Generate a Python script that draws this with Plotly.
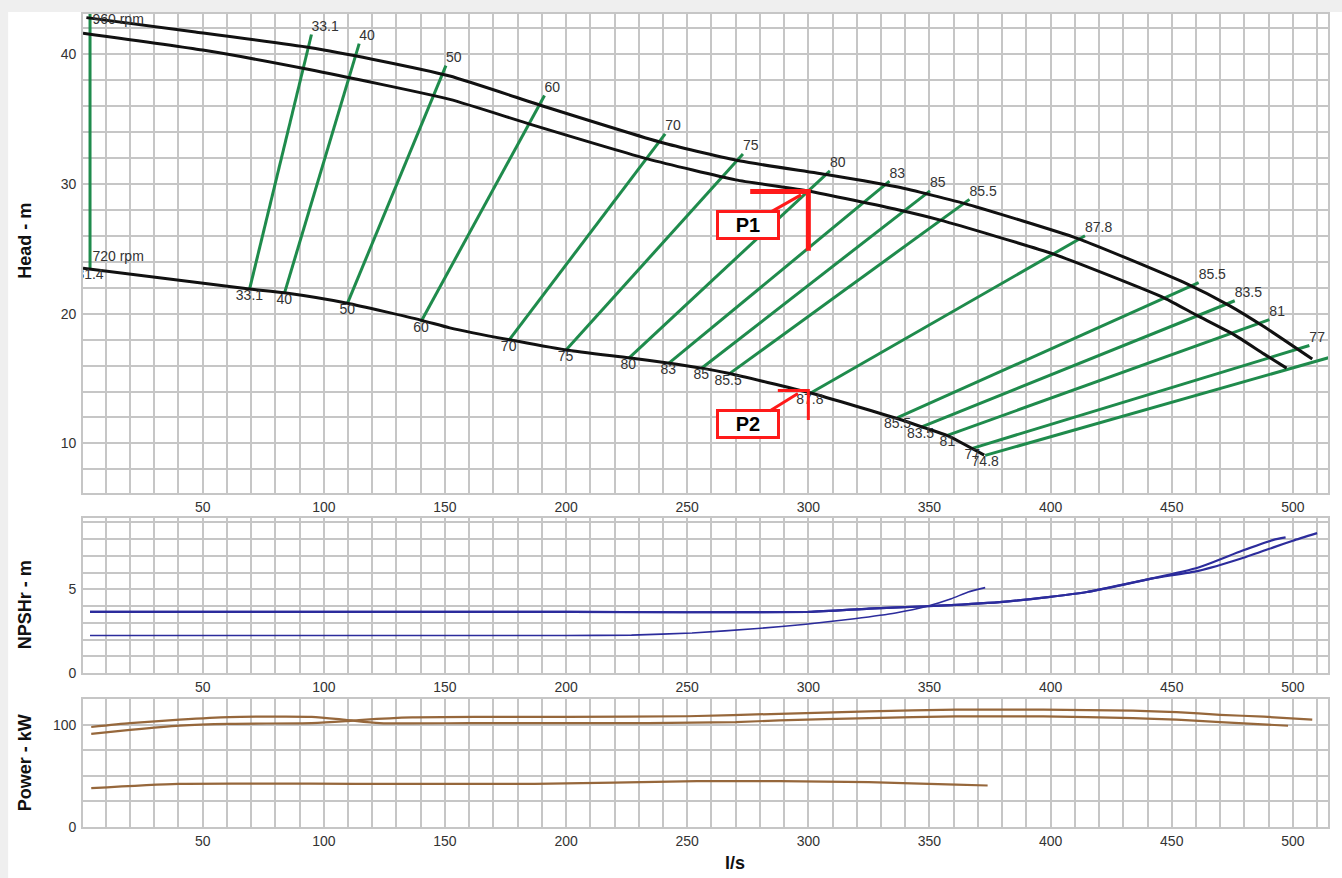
import plotly.graph_objects as go
from plotly.subplots import make_subplots

# ---------------- data ----------------
x_axis_title = "l/s"
x_tickvals = [50, 100, 150, 200, 250, 300, 350, 400, 450, 500]

# Head curves (flow l/s, head m)
head_960a_q = [2, 47, 94, 120, 152, 192, 241, 272, 308, 337, 366, 411, 455, 474, 488, 508]
head_960a_h = [42.8, 41.7, 40.5, 39.6, 38.3, 35.9, 33.1, 31.75, 30.7, 29.75, 28.4, 25.8, 22.4, 20.6, 19.0, 16.5]
head_960b_q = [0.6, 50, 94, 152, 185, 234, 270, 300, 337, 354.5, 401, 447, 460, 475.5, 488, 497.4]
head_960b_h = [41.6, 40.3, 38.8, 36.5, 34.6, 31.9, 30.3, 29.45, 28.0, 27.2, 24.6, 21.2, 19.9, 18.4, 16.9, 15.8]
head_720_q = [0.6, 69.3, 83.7, 109.7, 140, 152, 176, 200, 225.7, 242, 256, 267, 300.6, 337, 348, 357.4, 372.6]
head_720_h = [23.5, 21.9, 21.6, 20.8, 19.5, 18.9, 18.0, 17.2, 16.6, 16.2, 15.8, 15.4, 13.9, 11.9, 11.2, 10.6, 9.1]
speed_labels = ["960 rpm", "720 rpm"]
speed_label_q = [4.5, 4.5]
speed_label_h = [42.6, 24.3]

# Iso-efficiency lines (%)
eff_labels = ["31.4", "33.1", "40", "50", "60", "70", "75", "80", "83", "85", "85.5",
              "87.8", "85.5", "83.5", "81", "77", "74.8"]
eff_q_low = [3.5, 69.3, 83.7, 109.7, 140.1, 176.3, 199.8, 225.7, 242.2, 255.8, 266.9,
             300.6, 336.8, 346.3, 357.4, 367.7, 373.0]
eff_h_low = [23.5, 21.85, 21.54, 20.77, 19.38, 17.92, 17.15, 16.54, 16.15, 15.77, 15.3,
             13.85, 11.99, 11.23, 10.62, 9.62, 9.08]
eff_q_high = [3.5, 94.9, 114.6, 150.4, 191.1, 240.9, 273.0, 308.9, 333.5, 350.2, 366.5,
              414.2, 461.1, 476.0, 490.3, 506.8, 515.0]
eff_h_high = [43.8, 41.5, 40.8, 39.1, 36.8, 33.85, 32.3, 31.0, 30.2, 29.46, 28.8,
              26.0, 22.38, 20.99, 19.54, 17.54, 16.62]

# Duty points
duty_names = ["P1", "P2"]
duty_q = [300, 300]
duty_h = [29.4, 14.08]
duty_q_left = [276, 287.4]
duty_h_low = [24.85, 11.8]

# NPSHr curves (m)
npsh_960a_q = [3.5, 100, 200, 300, 325, 349, 379, 399, 415, 442, 461, 479, 492, 500, 510]
npsh_960a = [3.65, 3.65, 3.65, 3.65, 3.85, 3.99, 4.24, 4.54, 4.84, 5.65, 6.1, 6.85, 7.5, 7.9, 8.35]
npsh_960b_q = [3.5, 100, 200, 300, 325, 349, 379, 399, 415, 442, 461, 479, 492, 497]
npsh_960b = [3.65, 3.65, 3.65, 3.65, 3.85, 3.99, 4.24, 4.54, 4.84, 5.65, 6.3, 7.3, 7.95, 8.1]
npsh_720_q = [3.5, 100, 200, 227, 252, 279, 299, 319, 336, 349, 359, 366, 373]
npsh_720 = [2.25, 2.25, 2.25, 2.27, 2.4, 2.66, 2.92, 3.25, 3.59, 3.99, 4.44, 4.84, 5.1]

# Power curves (kW)
power_960a_q = [4, 20, 40.5, 61, 95, 109, 116, 136.5, 164, 200, 250, 288, 325, 361, 397, 434, 452, 470, 488, 508]
power_960a = [91.0, 95.0, 99.2, 100.9, 101.6, 103.5, 104.8, 107.2, 107.7, 107.6, 108.3, 110.7, 113.0, 114.7, 114.7, 113.7, 112.3, 109.7, 107.9, 104.9]
power_960b_q = [4, 20, 40.5, 61, 95, 109, 123, 160, 200, 234, 270, 288, 325, 361, 397, 434, 452, 470, 498]
power_960b = [97.8, 101.5, 105.0, 107.5, 107.7, 104.8, 101.6, 101.5, 101.5, 101.6, 102.6, 104.2, 106.5, 108.1, 108.1, 106.5, 104.9, 102.6, 99.0]
power_720_q = [4, 40, 113, 187, 254, 288, 325, 361, 374]
power_720 = [38.0, 42.2, 42.2, 42.2, 44.8, 44.8, 43.8, 41.5, 40.6]

# ---------------- styling ----------------
W, H = 1342, 878
ML, MR, MT, MB = 83, 12, 13, 51
PW, PH = W - ML - MR, H - MT - MB
FONT = "Liberation Sans, Arial, sans-serif"
GRID = "#c6c6c6"
GREEN = "#1f8b4c"
BLUE = "#2c2c9c"
BROWN = "#96673b"
TXT = "#333333"


def fy(py):
    return (H - MB - py) / PH


def fx(px):
    return (px - ML) / PW


fig = make_subplots(rows=3, cols=1)

# Efficiency lines
for i, lab in enumerate(eff_labels):
    fig.add_trace(go.Scatter(x=[eff_q_low[i], eff_q_high[i]], y=[eff_h_low[i], eff_h_high[i]],
                             mode="lines", line=dict(color=GREEN, width=3),
                             hoverinfo="skip", showlegend=False, cliponaxis=True), row=1, col=1)

# Head curves
for q, h in [(head_960a_q, head_960a_h), (head_960b_q, head_960b_h), (head_720_q, head_720_h)]:
    fig.add_trace(go.Scatter(x=q, y=h, mode="lines",
                             line=dict(color="#111111", width=3, shape="spline", smoothing=0.5),
                             showlegend=False, cliponaxis=True), row=1, col=1)

# Efficiency labels
lab_font = dict(family=FONT, size=14, color=TXT)
fig.add_trace(go.Scatter(x=eff_q_high, y=eff_h_high, mode="text", text=eff_labels,
                         textposition="top right", textfont=lab_font,
                         showlegend=False, cliponaxis=True), row=1, col=1)
fig.add_trace(go.Scatter(x=eff_q_low, y=eff_h_low, mode="text", text=eff_labels,
                         textposition="bottom center", textfont=lab_font,
                         showlegend=False, cliponaxis=True), row=1, col=1)
fig.add_trace(go.Scatter(x=speed_label_q, y=speed_label_h, mode="text", text=speed_labels,
                         textposition="middle right", textfont=lab_font,
                         showlegend=False, cliponaxis=True), row=1, col=1)

# Duty point markers
duty_widths = [5, 3]
for i, name in enumerate(duty_names):
    fig.add_trace(go.Scatter(x=[duty_q_left[i], duty_q[i], duty_q[i]],
                             y=[duty_h[i], duty_h[i], duty_h_low[i]],
                             mode="lines", line=dict(color="#ff1a1a", width=duty_widths[i]),
                             showlegend=False, cliponaxis=True), row=1, col=1)

# NPSH
for q, v, w in [(npsh_960a_q, npsh_960a, 2.2), (npsh_960b_q, npsh_960b, 2.2), (npsh_720_q, npsh_720, 1.6)]:
    fig.add_trace(go.Scatter(x=q, y=v, mode="lines",
                             line=dict(color=BLUE, width=w, shape="spline", smoothing=0.5),
                             showlegend=False), row=2, col=1)

# Power
for q, v in [(power_960a_q, power_960a), (power_960b_q, power_960b), (power_720_q, power_720)]:
    fig.add_trace(go.Scatter(x=q, y=v, mode="lines",
                             line=dict(color=BROWN, width=2.2, shape="spline", smoothing=0.6),
                             showlegend=False), row=3, col=1)

xrange = [0.6, 514.5]
axis_common = dict(showgrid=True, gridcolor=GRID, gridwidth=1.6, zeroline=False,
                   showline=True, linecolor=GRID, linewidth=1.6, mirror=True,
                   tickfont=dict(family=FONT, size=14, color=TXT))
for r in (1, 2, 3):
    fig.update_xaxes(range=xrange, tickmode="array", tickvals=x_tickvals,
                     minor=dict(dtick=10, tick0=0, showgrid=True, gridcolor=GRID, gridwidth=1.6),
                     ticks="", **axis_common, row=r, col=1)
fig.update_yaxes(domain=[fy(493), 1.0], range=[6.15, 43.08], tickmode="linear", tick0=0, dtick=10,
                 minor=dict(dtick=2, tick0=0, showgrid=True, gridcolor=GRID, gridwidth=1.6),
                 ticks="outside", ticklen=2, tickcolor="rgba(0,0,0,0)", **axis_common, row=1, col=1)
fig.update_yaxes(domain=[fy(673), fy(518)], range=[0, 9.23], tickmode="linear", tick0=0, dtick=5,
                 minor=dict(dtick=1, tick0=0, showgrid=True, gridcolor=GRID, gridwidth=1.6),
                 ticks="outside", ticklen=2, tickcolor="rgba(0,0,0,0)", **axis_common, row=2, col=1)
fig.update_yaxes(domain=[0.0, fy(699)], range=[0, 125], tickmode="linear", tick0=0, dtick=100,
                 minor=dict(dtick=25, tick0=0, showgrid=True, gridcolor=GRID, gridwidth=1.6),
                 ticks="outside", ticklen=2, tickcolor="rgba(0,0,0,0)", **axis_common, row=3, col=1)

annotations = []
title_font = dict(family=FONT, size=18, color="#111111")
for text, py in [("<b>Head - m</b>", 240), ("<b>NPSHr - m</b>", 605), ("<b>Power - kW</b>", 763)]:
    annotations.append(dict(text=text, xref="paper", yref="paper", x=fx(25), y=fy(py),
                            xanchor="center", yanchor="middle", textangle=-90, showarrow=False,
                            font=title_font))
annotations.append(dict(text="<b>" + x_axis_title + "</b>", xref="paper", yref="paper", x=fx(736), y=fy(863),
                        xanchor="center", yanchor="middle", showarrow=False, font=title_font))

# Duty point boxes
box_off = [(-53, 30), (-50, 31)]
tip_q = [297, 295.7]
tip_h = [29.15, 13.85]
for i, name in enumerate(duty_names):
    annotations.append(dict(text="<b>" + name + "</b>", x=tip_q[i], y=tip_h[i], xref="x", yref="y",
                            ax=box_off[i][0], ay=box_off[i][1], axref="pixel", ayref="pixel",
                            showarrow=True, arrowhead=0, arrowwidth=3, arrowcolor="#ff1a1a",
                            bgcolor="white", bordercolor="#ff1a1a", borderwidth=3, borderpad=0,
                            width=58, height=24, font=dict(family=FONT, size=20, color="black")))

fig.update_layout(
    width=W, height=H, margin=dict(l=ML, r=MR, t=MT, b=MB),
    paper_bgcolor="#efefef", plot_bgcolor="white",
    showlegend=False, annotations=annotations,
    shapes=[dict(type="rect", xref="paper", yref="paper", layer="below",
                 x0=fx(8), x1=fx(W + 5), y0=fy(H + 5), y1=fy(11),
                 fillcolor="white", line=dict(width=0))],
)

fig.write_html("out.html", config={"displayModeBar": False},
               post_script="document.body.style.margin='0';document.body.style.overflow='hidden';")
